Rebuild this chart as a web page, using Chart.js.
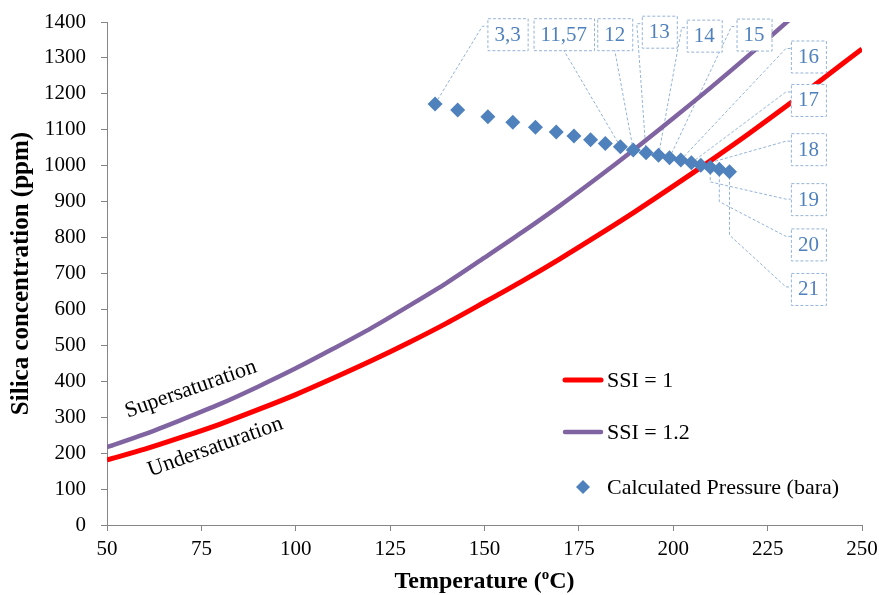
<!DOCTYPE html>
<html>
<head>
<meta charset="utf-8">
<script src="https://cdn.jsdelivr.net/npm/chart.js@4.4.1/dist/chart.umd.min.js"></script>
<style>
    html, body { margin: 0; padding: 0; background: #fff; }
    #wrap { width: 879px; height: 595px; }
</style>
</head>
<body>
<div id="wrap"><canvas id="silicaChart"></canvas></div>
<script>
// --- data ---
const curveTemps = [50, 60, 70, 80, 90, 100, 110, 120, 130, 140, 150, 160, 170, 180, 190, 200, 210, 220, 230, 240, 250];
const ssi1 = [181, 211, 245, 281, 321, 363, 409, 457, 508, 562, 620, 679, 741, 806, 873, 943, 1015, 1089, 1166, 1245, 1325];
const ssi12 = [217, 253, 294, 337, 385, 436, 491, 548, 610, 674, 744, 815, 889, 967, 1048, 1132, 1218, 1307, 1399, 1494, 1590];

const pressTemps = [136.9, 142.9, 150.9, 157.5, 163.5, 169.0, 173.7, 178.1, 182.0, 186.0, 189.4, 192.8, 196.1, 199.0, 202.0, 204.8, 207.3, 209.8, 212.2, 214.9];
const pressSilica = [1172, 1155, 1136, 1121, 1107, 1094, 1083, 1072, 1062, 1053, 1044, 1036, 1029, 1022, 1016, 1008, 1001, 996, 990, 983];
const pressBara = [3.3, 4, 5, 6, 7, 8, 9, 10, 11, 11.57, 12, 13, 14, 15, 16, 17, 18, 19, 20, 21];

const xTicks = [50, 75, 100, 125, 150, 175, 200, 225, 250];
const yTicks = [0, 100, 200, 300, 400, 500, 600, 700, 800, 900, 1000, 1100, 1200, 1300, 1400];

const SERIF = "'Liberation Serif', 'Times New Roman', serif";
const AXIS_GREY = '#868686';
const BLUE = '#4F81BD';
const PALE = '#95B3D7';

// where the pressure labels sit (data units) and how the leader reaches them
const labelSpots = [
    { i: 0,  x: 156.1, y: 1366, side: 'L' },
    { i: 9,  x: 171.0, y: 1366, side: 'B' },
    { i: 10, x: 184.5, y: 1366, side: 'B' },
    { i: 11, x: 196.3, y: 1373, side: 'L' },
    { i: 12, x: 208.2, y: 1362, side: 'L' },
    { i: 13, x: 221.4, y: 1365, side: 'L' },
    { i: 14, x: 235.8, y: 1304, side: 'L' },
    { i: 15, x: 235.8, y: 1183, side: 'L' },
    { i: 16, x: 235.8, y: 1046, side: 'L' },
    { i: 17, x: 235.8, y: 907,  side: 'L', elbow: 955, ay: 16 },
    { i: 18, x: 235.8, y: 781,  side: 'L', elbow: 900 },
    { i: 19, x: 235.8, y: 657,  side: 'L', elbow: 807, ay: 14 }
];

function fmtBara(v) {
    return String(v).replace('.', ',');
}

function spotBox(ctx, chart, s) {
    const text = fmtBara(pressBara[s.i]);
    const w = ctx.measureText(text).width + 14, h = 32;
    const cx = chart.scales.x.getPixelForValue(s.x);
    const cy = chart.scales.y.getPixelForValue(s.y);
    return { text, cx, cy, l: cx - w / 2, t: cy - h / 2, w, h };
}

// leader lines go under the series, boxes on top
const pressureLabels = {
    id: 'pressureLabels',
    beforeDatasetsDraw(chart) {
        const ctx = chart.ctx;
        const meta = chart.getDatasetMeta(0);
        ctx.save();
        ctx.font = '21px ' + SERIF;
        ctx.strokeStyle = PALE;
        ctx.lineWidth = 1;
        ctx.setLineDash([3, 2]);
        labelSpots.forEach(s => {
            const pt = meta.data[s.i];
            const b = spotBox(ctx, chart, s);
            ctx.beginPath();
            ctx.moveTo(pt.x, pt.y);
            if (s.elbow) ctx.lineTo(pt.x, chart.scales.y.getPixelForValue(s.elbow));
            if (s.side === 'B') {
                ctx.lineTo(b.cx, b.t + b.h);
            } else {
                const ay = b.t + (s.ay || 8);
                ctx.lineTo(b.l - 5, ay);
                ctx.lineTo(b.l, ay);
            }
            ctx.stroke();
        });
        ctx.restore();
    },
    afterDatasetsDraw(chart) {
        const ctx = chart.ctx;
        ctx.save();
        ctx.font = '21px ' + SERIF;
        labelSpots.forEach(s => {
            const b = spotBox(ctx, chart, s);
            ctx.fillStyle = '#fff';
            ctx.fillRect(b.l, b.t, b.w, b.h);
            ctx.setLineDash([3, 2]);
            ctx.strokeStyle = PALE;
            ctx.lineWidth = 1;
            ctx.strokeRect(b.l + 0.5, b.t + 0.5, b.w, b.h);
            ctx.fillStyle = BLUE;
            ctx.textAlign = 'center';
            ctx.textBaseline = 'middle';
            ctx.fillText(b.text, b.cx, b.cy + 1);
        });

        // region names along the curves
        const xs = chart.scales.x, ys = chart.scales.y;
        ctx.fillStyle = '#000';
        ctx.font = '22px ' + SERIF;
        [['Supersaturation', 72.2, 378, -19.5], ['Undersaturation', 78.7, 217, -19.8]].forEach(n => {
            ctx.save();
            ctx.translate(xs.getPixelForValue(n[1]), ys.getPixelForValue(n[2]));
            ctx.rotate(n[3] * Math.PI / 180);
            ctx.textAlign = 'center';
            ctx.textBaseline = 'middle';
            ctx.fillText(n[0], 0, 0);
            ctx.restore();
        });
        ctx.restore();
    }
};

// legend inside the plot + axis titles
const sideDecor = {
    id: 'sideDecor',
    afterDraw(chart) {
        const ctx = chart.ctx;
        const area = chart.chartArea;
        const ds = chart.data.datasets;
        ctx.save();

        // legend
        ctx.font = '22px ' + SERIF;
        ctx.textBaseline = 'middle';
        ctx.textAlign = 'left';
        const rows = [[ds[1], 380], [ds[2], 432], [ds[0], 487]];
        rows.forEach(r => {
            const d = r[0], y = r[1];
            if (d.showLine) {
                ctx.strokeStyle = d.borderColor;
                ctx.lineWidth = d.borderWidth;
                ctx.lineCap = 'round';
                ctx.beginPath();
                ctx.moveTo(565, y);
                ctx.lineTo(601, y);
                ctx.stroke();
            } else {
                ctx.fillStyle = d.backgroundColor;
                ctx.beginPath();
                ctx.moveTo(583 - 7, y);
                ctx.lineTo(583, y - 7);
                ctx.lineTo(583 + 7, y);
                ctx.lineTo(583, y + 7);
                ctx.closePath();
                ctx.fill();
            }
            ctx.fillStyle = '#000';
            ctx.fillText(d.label, 607, y + 1);
        });

        // y title
        ctx.font = 'bold 25px ' + SERIF;
        ctx.fillStyle = '#000';
        ctx.save();
        ctx.translate(22, (area.top + area.bottom) / 2);
        ctx.rotate(-Math.PI / 2);
        ctx.textAlign = 'center';
        ctx.textBaseline = 'middle';
        ctx.fillText('Silica concentration (ppm)', 0, 0);
        ctx.restore();

        // x title with superscript o
        const big = 'bold 24px ' + SERIF, small = 'bold 15px ' + SERIF;
        const p1 = 'Temperature (', p2 = 'o', p3 = 'C)';
        ctx.font = big;
        const w1 = ctx.measureText(p1).width, w3 = ctx.measureText(p3).width;
        ctx.font = small;
        const w2 = ctx.measureText(p2).width;
        let x = (area.left + area.right) / 2 - (w1 + w2 + w3) / 2;
        const base = 588;
        ctx.textAlign = 'left';
        ctx.textBaseline = 'alphabetic';
        ctx.font = big;
        ctx.fillText(p1, x, base);
        x += w1;
        ctx.font = small;
        ctx.fillText(p2, x, base - 9);
        x += w2;
        ctx.font = big;
        ctx.fillText(p3, x, base);
        ctx.restore();
    }
};

const ctxChart = document.getElementById('silicaChart').getContext('2d');
new Chart(ctxChart, {
    type: 'scatter',
    data: {
        datasets: [
            {
                label: 'Calculated Pressure (bara)',
                data: pressTemps.map((t, i) => ({ x: t, y: pressSilica[i] })),
                pointStyle: 'rectRot',
                pointRadius: 7.5,
                pointHoverRadius: 7.5,
                backgroundColor: BLUE,
                borderColor: BLUE,
                borderWidth: 0,
                showLine: false,
                order: 0
            },
            {
                label: 'SSI = 1',
                data: curveTemps.map((t, i) => ({ x: t, y: ssi1[i] })),
                showLine: true,
                borderColor: '#FF0000',
                backgroundColor: '#FF0000',
                borderWidth: 5,
                pointRadius: 0,
                tension: 0.3,
                order: 1
            },
            {
                label: 'SSI = 1.2',
                data: curveTemps.map((t, i) => ({ x: t, y: ssi12[i] })),
                showLine: true,
                borderColor: '#8064A2',
                backgroundColor: '#8064A2',
                borderWidth: 4.5,
                pointRadius: 0,
                tension: 0.3,
                order: 2
            }
        ]
    },
    options: {
        responsive: true,
        maintainAspectRatio: false,
        animation: false,
        layout: { padding: { top: 22, right: 17, left: 0, bottom: 0 } },
        plugins: {
            legend: { display: false },
            tooltip: { enabled: false }
        },
        scales: {
            x: {
                type: 'linear',
                min: 50,
                max: 250,
                afterBuildTicks: s => { s.ticks = xTicks.map(v => ({ value: v })); },
                afterFit: s => { s.height = 70; s.paddingLeft = 0; s.paddingRight = 0; },
                grid: { drawOnChartArea: false, drawTicks: true, tickLength: 6, color: AXIS_GREY },
                border: { display: true, color: AXIS_GREY, width: 1 },
                ticks: { color: '#000', font: { family: SERIF, size: 21 }, padding: 6, maxRotation: 0,
                         callback: v => String(v) }
            },
            y: {
                type: 'linear',
                min: 0,
                max: 1400,
                afterBuildTicks: s => { s.ticks = yTicks.map(v => ({ value: v })); },
                afterFit: s => { s.width = 107; s.paddingTop = 0; s.paddingBottom = 0; },
                grid: { drawOnChartArea: false, drawTicks: true, tickLength: 6, color: AXIS_GREY },
                border: { display: true, color: AXIS_GREY, width: 1 },
                ticks: { color: '#000', font: { family: SERIF, size: 21 }, padding: 15,
                         callback: v => String(v) }
            }
        }
    },
    plugins: [pressureLabels, sideDecor]
});
</script>
</body>
</html>
